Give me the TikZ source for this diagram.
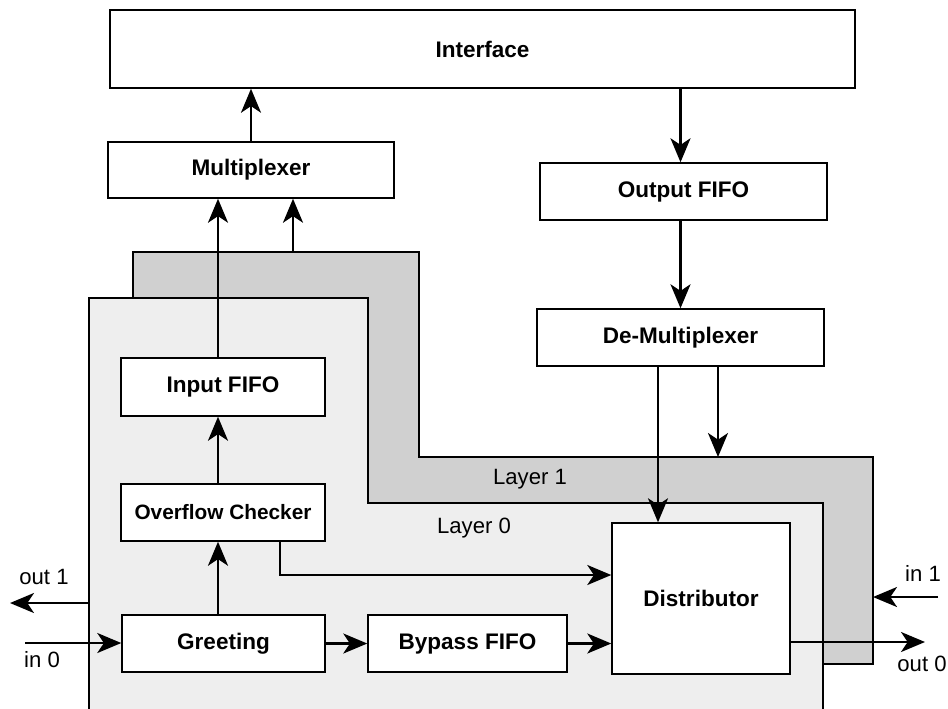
\documentclass[tikz,border=0pt]{standalone}
\usepackage{fontspec}
\setmainfont{Liberation Sans}
\usetikzlibrary{arrows.meta,calc}
\definecolor{layerA}{HTML}{EEEEEE}
\definecolor{layerB}{HTML}{D0D0D0}
\begin{document}
\begin{tikzpicture}[x=0.75pt,y=-0.75pt,
  box/.style={draw, fill=white, line width=1.1pt, inner sep=0pt, font=\fontsize{16.9}{18}\selectfont\bfseries},
  smallbox/.style={box, font=\fontsize{15.6}{17}\selectfont\bfseries},
  arr/.style={line width=1.9pt, -{Stealth[length=18pt,width=15pt,inset=5pt]}},
  lab/.style={font=\fontsize{16.6}{18}\selectfont, inner sep=0pt},
  layerline/.style={line width=1.1pt}]
\clip (0,0) rectangle (948,708);
\fill[white] (0,0) rectangle (948,708);
% layers
\fill[layerB] (133,298) -- (133,252) -- (419,252) -- (419,457) -- (873,457) -- (873,664) -- (823,664) -- (823,503) -- (368,503) -- (368,298) -- cycle;
\draw[layerline] (133,298) -- (133,252) -- (419,252) -- (419,457) -- (873,457) -- (873,664) -- (823,664);
\fill[layerA] (89,720) -- (89,298) -- (368,298) -- (368,503) -- (823,503) -- (823,720) -- cycle;
\draw[layerline] (89,720) -- (89,298) -- (368,298) -- (368,503) -- (823,503) -- (823,720);
% boxes
\node[box, minimum width=558.75pt, minimum height=58.5pt] (iface) at (482.5,49) {Interface};
\node[box, minimum width=214.5pt, minimum height=42pt] (mux) at (251,170) {Multiplexer};
\node[box, minimum width=215.25pt, minimum height=42.75pt] (ofifo) at (683.5,191.5) {Output FIFO};
\node[box, minimum width=215.25pt, minimum height=42.75pt] (demux) at (680.5,337.5) {De-Multiplexer};
\node[box, minimum width=153pt, minimum height=43.5pt] (ififo) at (223,387) {Input FIFO};
\node[smallbox, minimum width=153pt, minimum height=42.75pt] (ovf) at (223,512.5) {Overflow Checker};
\node[box, minimum width=152.25pt, minimum height=42.75pt] (greet) at (223.5,643.5) {Greeting};
\node[box, minimum width=149.25pt, minimum height=42.75pt] (bypass) at (467.5,643.5) {Bypass FIFO};
\node[box, minimum width=133.5pt, minimum height=113.25pt] (dist) at (701,598.5) {Distributor};
% labels
\node[lab] (tout1) at (44,577) {out 1};
\node[lab] (tin0) at (42,660) {in 0};
\node[lab] (tin1) at (923,573) {in 1};
\node[lab] (tout0) at (922,664) {out 0};
\node[lab] (tl1) at (530,479) {Layer 1};
\node[lab] (tl0) at (474,528) {Layer 0};
% coordinates
\coordinate (cx) at (218,0);
\coordinate (l1top) at (293,252);
\coordinate (bend) at (280,575);
\coordinate (dm1) at (658,0);
\coordinate (l1in) at (718,457);
\coordinate (in0) at (25,643);
\coordinate (l0out) at (89,603);
\coordinate (out1) at (10,603);
\coordinate (in1) at (938,597);
\coordinate (l1right) at (873,597);
\coordinate (out0) at (925,642);
% arrows
\draw[arr] (mux.north) -- (mux.north |- iface.south);
\draw[arr] (iface.south -| demux.north) -- (ofifo.north -| demux.north);
\draw[arr] (ofifo.south -| demux.north) -- (demux.north);
\draw[arr] (ififo.north -| cx) -- (mux.south -| cx);
\draw[arr] (l1top) -- (mux.south -| l1top);
\draw[arr] (ovf.north -| cx) -- (ififo.south -| cx);
\draw[arr] (greet.north -| cx) -- (ovf.south -| cx);
\draw[arr] (ovf.south -| bend) -- (bend) -- (dist.west |- bend);
\draw[arr] (greet.east) -- (bypass.west);
\draw[arr] (bypass.east) -- (dist.west |- bypass.east);
\draw[arr] (demux.south -| dm1) -- (dist.north -| dm1);
\draw[arr] (demux.south -| l1in) -- (l1in);
\draw[arr] (in0) -- (greet.west |- in0);
\draw[arr] (l0out) -- (out1);
\draw[arr] (in1) -- (l1right);
\draw[arr] (dist.east |- out0) -- (out0);
\end{tikzpicture}
\end{document}
